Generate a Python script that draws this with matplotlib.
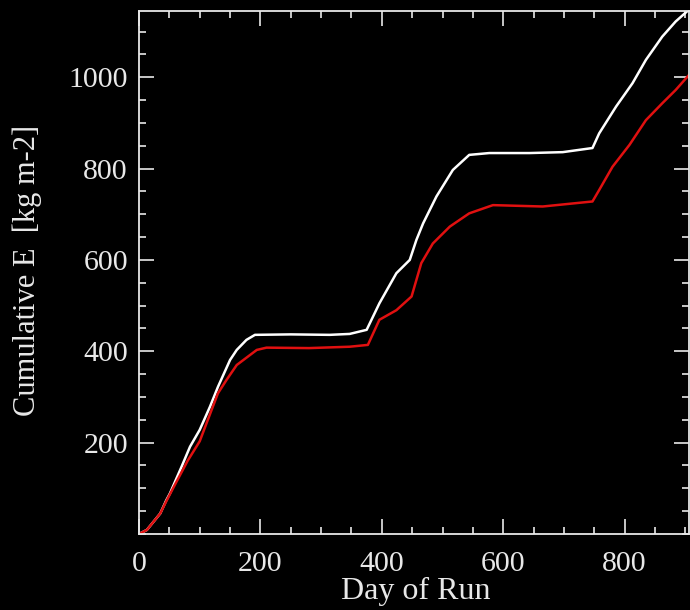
import matplotlib
matplotlib.use("Agg")
import matplotlib.pyplot as plt
from matplotlib.ticker import MultipleLocator

# Cumulative E
days_white = [0, 13, 24, 35, 45, 51, 70, 84, 100, 117, 130, 150, 161, 177, 191,
              250, 314, 347, 375, 396, 424, 446, 457, 468, 490, 517, 544, 577,
              643, 698, 747, 758, 786, 813, 835, 862, 884, 906]
cum_white = [0, 9, 27, 45, 74, 89, 147, 191, 228, 279, 322, 381, 403, 425, 436,
             437, 436, 438, 447, 505, 571, 600, 644, 680, 739, 797, 830, 834,
             834, 836, 845, 877, 936, 987, 1038, 1089, 1122, 1148]

days_red = [0, 13, 24, 35, 45, 60, 80, 100, 130, 144, 161, 194, 210, 280, 347,
            377, 396, 424, 449, 465, 484, 512, 544, 583, 665, 747, 758, 780,
            808, 835, 862, 884, 906]
cum_red = [0, 9, 27, 45, 72, 110, 160, 203, 308, 337, 370, 403, 408, 407, 410,
           414, 469, 490, 520, 593, 636, 673, 702, 720, 717, 728, 753, 804,
           852, 906, 943, 972, 1005]

y_ticks = [200, 400, 600, 800, 1000]
x_ticks = [0, 200, 400, 600, 800]

fg = "#e8e8e8"
plt.rcParams["font.family"] = ["Liberation Serif", "DejaVu Serif"]

fig = plt.figure(figsize=(6.9, 6.1), dpi=100, facecolor="black")
ax = fig.add_axes([139 / 690, 76 / 610, 550 / 690, 523 / 610], facecolor="black")

ax.plot(days_white, cum_white, color="white", lw=1.8)
ax.plot(days_red, cum_red, color="#e01010", lw=1.8)

ax.set_xlim(0, 906)
ax.set_ylim(0, 1145)
ax.set_xticks(x_ticks)
ax.set_yticks(y_ticks)
ax.xaxis.set_minor_locator(MultipleLocator(50))
ax.yaxis.set_minor_locator(MultipleLocator(50))

for s in ax.spines.values():
    s.set_color(fg)
    s.set_linewidth(1.3)

ax.tick_params(which="both", direction="in", top=True, right=True, colors=fg,
               width=1.2, labelsize=21.5)
ax.tick_params(which="major", length=11)
ax.tick_params(which="minor", length=5)
ax.tick_params(axis="x", pad=12)
ax.tick_params(axis="y", pad=8)

fig.text(416 / 690, 1 - 591 / 610, "Day of Run", color=fg, fontsize=23,
         ha="center", va="center")
fig.text(27 / 690, 1 - 270 / 610, "Cumulative E  [kg m-2]", color=fg,
         fontsize=22, ha="center", va="center", rotation=90)

fig.savefig("out.png", dpi=100, facecolor="black")
